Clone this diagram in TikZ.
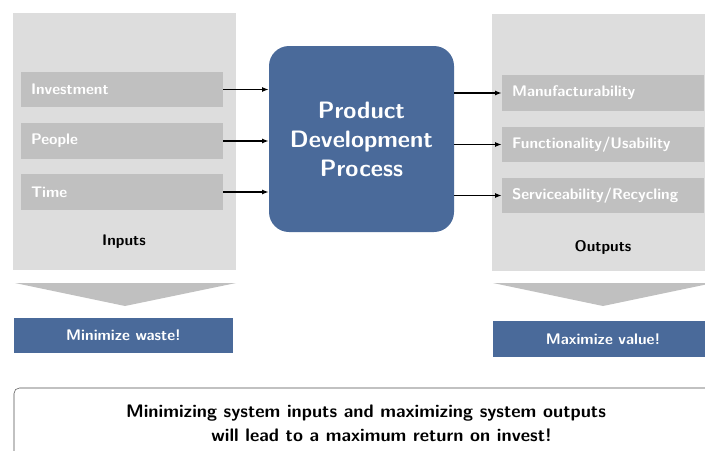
\documentclass[tikz,border=0pt]{standalone}
\usepackage{tikz}
\usetikzlibrary{arrows.meta, positioning}

\definecolor{procblue}{RGB}{74,106,154}
\definecolor{panelgray}{RGB}{221,221,221}
\definecolor{itemgray}{RGB}{192,192,192}
\definecolor{framegray}{RGB}{80,80,80}

\begin{document}
\begin{tikzpicture}[x=0.75pt, y=-0.75pt,
  font=\sffamily\bfseries\fontsize{11.5}{13}\selectfont,
  panel/.style={fill=panelgray, minimum width=167.25pt, minimum height=192.75pt, inner sep=0pt},
  item/.style={fill=itemgray, text=white, minimum width=151.5pt, minimum height=26.5pt,
    text width=136.5pt, inner xsep=7.5pt, align=left},
  proc/.style={fill=procblue, text=white, rounded corners=15pt, minimum width=138.75pt,
    minimum height=139.5pt, align=center, font=\sffamily\bfseries\fontsize{17.8}{21.75}\selectfont},
  goal/.style={fill=procblue, text=white, minimum width=164.5pt, minimum height=26.5pt},
  flow/.style={-{Latex[length=5pt]}, line width=1.1pt}]
\useasboundingbox (0,0) rectangle (705,450);

% left side: inputs
\node[panel] (inpanel) at (124.5,141.5) {};
\node[item] (invest) at (122,89.5) {Investment};
\node[item] (people) at (122,141) {People};
\node[item] (time) at (122,192) {Time};
\node (inputs) at (124,242) {Inputs};

% process
\node[proc] (pdp) at (361.5,139) {Product\\Development\\Process};

% right side: outputs
\node[panel] (outpanel) at (603,142) {};
\node[item] (manu) at (603,93) {Manufacturability};
\node[item] (func) at (603,144.5) {Functionality/Usability};
\node[item] (serv) at (603,195.5) {Serviceability/Recycling};
\node (outputs) at (603,247) {Outputs};

\draw[flow] (invest.east) -- (invest.east -| pdp.west);
\draw[flow] (people.east) -- (people.east -| pdp.west);
\draw[flow] (time.east) -- (time.east -| pdp.west);
\draw[flow] (manu.west -| pdp.east) -- (manu.west);
\draw[flow] (func.west -| pdp.east) -- (func.west);
\draw[flow] (serv.west -| pdp.east) -- (serv.west);

% funnels
\fill[itemgray] (15,283) -- (236,283) -- (125,306) -- cycle;
\fill[itemgray] (493,283) -- (713,283) -- (603,306) -- cycle;

\node[goal] (waste) at (123.5,335.5) {Minimize waste!};
\node[goal, minimum height=27pt] (value) at (603,339) {Maximize value!};

% conclusion
\draw[framegray, rounded corners=4pt] (14,388) rectangle (725,470);
\node[align=left, font=\sffamily\bfseries\fontsize{13.6}{18}\selectfont] (summary) at (366,423)
  {Minimizing system inputs and maximizing system outputs\\
   \hspace*{64pt}will lead to a maximum return on invest!};
\end{tikzpicture}
\end{document}
